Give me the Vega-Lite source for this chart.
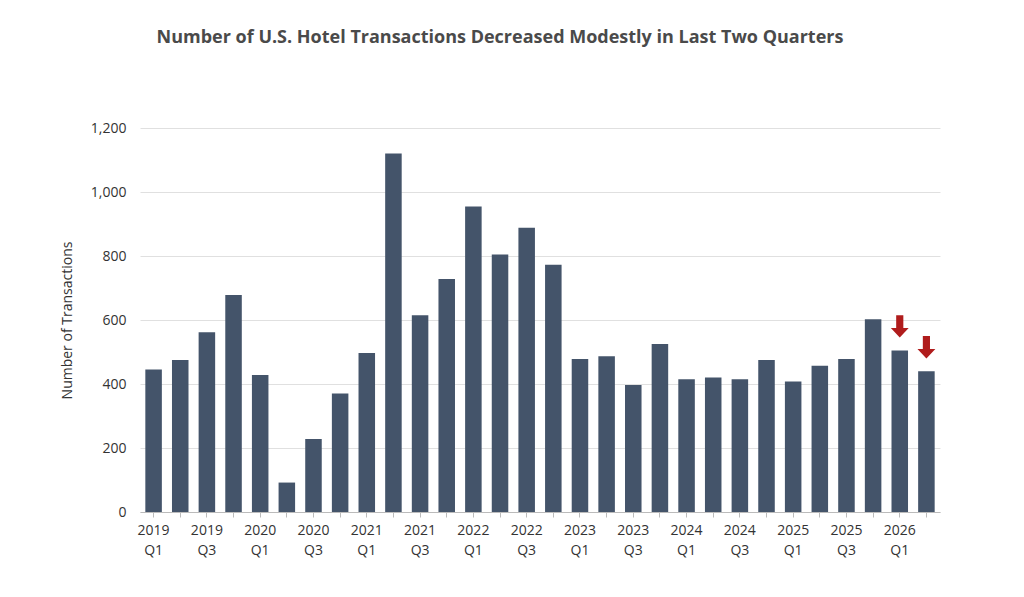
{
  "$schema": "https://vega.github.io/schema/vega-lite/v6.json",
  "width": 800,
  "height": 384,
  "autosize": "none",
  "padding": {"left": 140, "top": 128, "right": 84, "bottom": 85},
  "background": "white",
  "title": {
    "text": "Number of U.S. Hotel Transactions Decreased Modestly in Last Two Quarters",
    "font": "Open Sans", "fontSize": 18, "fontWeight": "bold", "color": "#4a4a4a",
    "anchor": "middle", "offset": 74, "dx": -40
  },
  "data": {"values": [
    {"q": "2019 Q1", "v": 445}, {"q": "2019 Q2", "v": 475}, {"q": "2019 Q3", "v": 562}, {"q": "2019 Q4", "v": 678},
    {"q": "2020 Q1", "v": 428}, {"q": "2020 Q2", "v": 92}, {"q": "2020 Q3", "v": 228}, {"q": "2020 Q4", "v": 370},
    {"q": "2021 Q1", "v": 497}, {"q": "2021 Q2", "v": 1120}, {"q": "2021 Q3", "v": 615}, {"q": "2021 Q4", "v": 728},
    {"q": "2022 Q1", "v": 955}, {"q": "2022 Q2", "v": 805}, {"q": "2022 Q3", "v": 888}, {"q": "2022 Q4", "v": 773},
    {"q": "2023 Q1", "v": 478}, {"q": "2023 Q2", "v": 487}, {"q": "2023 Q3", "v": 397}, {"q": "2023 Q4", "v": 525},
    {"q": "2024 Q1", "v": 415}, {"q": "2024 Q2", "v": 420}, {"q": "2024 Q3", "v": 415}, {"q": "2024 Q4", "v": 475},
    {"q": "2025 Q1", "v": 408}, {"q": "2025 Q2", "v": 457}, {"q": "2025 Q3", "v": 478}, {"q": "2025 Q4", "v": 602},
    {"q": "2026 Q1", "v": 505, "arrow": true}, {"q": "2026 Q2", "v": 440, "arrow": true}
  ]},
  "encoding": {
    "x": {
      "field": "q", "type": "ordinal", "sort": null, "title": null,
      "scale": {"paddingInner": 0.38, "paddingOuter": 0.2},
      "axis": {
        "labelAngle": 0, "labelFont": "Open Sans", "labelFontSize": 14, "labelColor": "#333",
        "labelExpr": "(split(datum.label,' ')[1]=='Q1' || split(datum.label,' ')[1]=='Q3') ? split(datum.label,' ') : ''",
        "labelPadding": 6, "domainColor": "#bbb", "tickColor": "#bbb", "tickSize": 5, "labelLineHeight": 20
      }
    },
    "y": {
      "field": "v", "type": "quantitative", "title": "Number of Transactions",
      "scale": {"domain": [0, 1200]},
      "axis": {
        "values": [0, 200, 400, 600, 800, 1000, 1200], "format": ",.0f",
        "labelFont": "Open Sans", "labelFontSize": 14, "labelColor": "#333", "labelPadding": 14,
        "titleFont": "Open Sans", "titleFontSize": 14, "titleFontWeight": "normal", "titleColor": "#333", "titlePadding": 16,
        "domain": false, "ticks": false, "gridColor": "#e0e0e0"
      }
    }
  },
  "layer": [
    {"mark": {"type": "bar", "color": "#44546a"}},
    {
      "transform": [{"filter": "datum.arrow"}],
      "mark": {
        "type": "point", "filled": true, "color": "#b01c1c", "opacity": 1, "size": 500, "yOffset": -24,
        "shape": "M-0.32,-1 L0.32,-1 L0.32,0.15 L0.8,0.15 L0,1 L-0.8,0.15 L-0.32,0.15 Z"
      }
    }
  ],
  "config": {"view": {"stroke": null}}
}
